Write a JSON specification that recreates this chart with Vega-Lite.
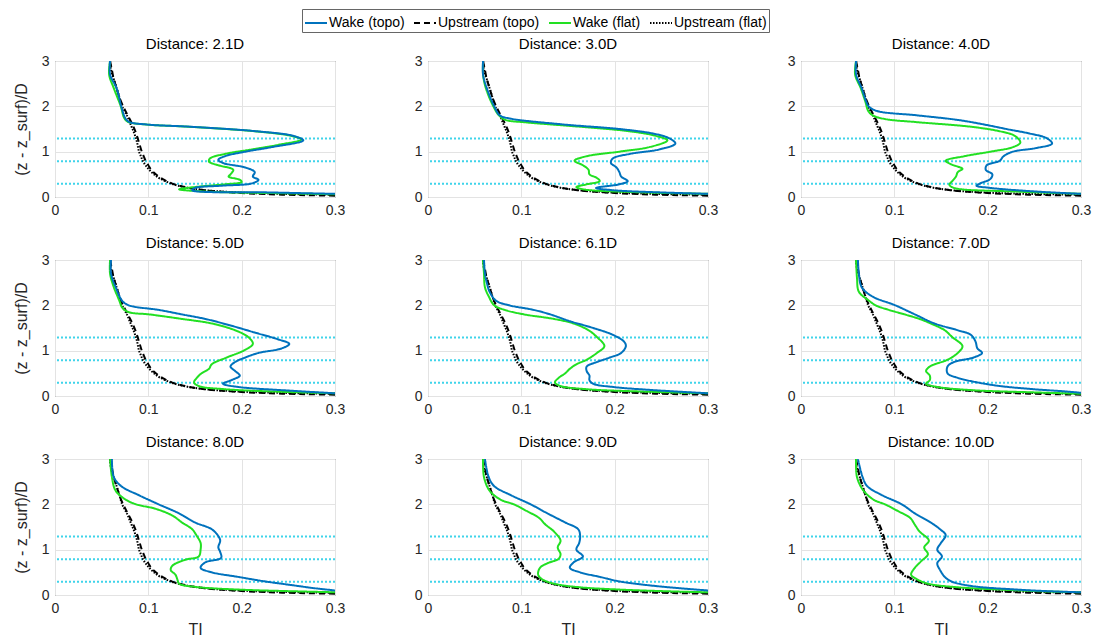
{
"$schema": "https://vega.github.io/schema/vega-lite/v6.json",
"padding": {"left": 12, "top": 8, "right": 5, "bottom": 5},
"background": "white",
"bounds": "flush",
"columns": 3,
"spacing": {"row": 63, "column": 93},
"datasets": {
"hub": [{"z": 0.29}, {"z": 0.79}, {"z": 1.29}],
"prof": [
{"d":"all","s":"Upstream (flat)","z":3,"t":0.059},{"d":"all","s":"Upstream (flat)","z":2.8,"t":0.060},{"d":"all","s":"Upstream (flat)","z":2.6,"t":0.063},{"d":"all","s":"Upstream (flat)","z":2.4,"t":0.066},{"d":"all","s":"Upstream (flat)","z":2.2,"t":0.069},{"d":"all","s":"Upstream (flat)","z":2.0,"t":0.072},{"d":"all","s":"Upstream (flat)","z":1.8,"t":0.077},{"d":"all","s":"Upstream (flat)","z":1.6,"t":0.081},{"d":"all","s":"Upstream (flat)","z":1.4,"t":0.085},{"d":"all","s":"Upstream (flat)","z":1.2,"t":0.088},{"d":"all","s":"Upstream (flat)","z":1.0,"t":0.090},{"d":"all","s":"Upstream (flat)","z":0.9,"t":0.092},{"d":"all","s":"Upstream (flat)","z":0.8,"t":0.094},{"d":"all","s":"Upstream (flat)","z":0.7,"t":0.097},{"d":"all","s":"Upstream (flat)","z":0.6,"t":0.101},{"d":"all","s":"Upstream (flat)","z":0.5,"t":0.106},{"d":"all","s":"Upstream (flat)","z":0.4,"t":0.113},{"d":"all","s":"Upstream (flat)","z":0.3,"t":0.124},{"d":"all","s":"Upstream (flat)","z":0.25,"t":0.132},{"d":"all","s":"Upstream (flat)","z":0.2,"t":0.143},{"d":"all","s":"Upstream (flat)","z":0.15,"t":0.161},{"d":"all","s":"Upstream (flat)","z":0.1,"t":0.196},{"d":"all","s":"Upstream (flat)","z":0.07,"t":0.24},{"d":"all","s":"Upstream (flat)","z":0.05,"t":0.3},
{"d":"all","s":"Upstream (topo)","z":3,"t":0.059},{"d":"all","s":"Upstream (topo)","z":2.8,"t":0.061},{"d":"all","s":"Upstream (topo)","z":2.6,"t":0.063},{"d":"all","s":"Upstream (topo)","z":2.4,"t":0.066},{"d":"all","s":"Upstream (topo)","z":2.2,"t":0.069},{"d":"all","s":"Upstream (topo)","z":2.0,"t":0.073},{"d":"all","s":"Upstream (topo)","z":1.8,"t":0.078},{"d":"all","s":"Upstream (topo)","z":1.6,"t":0.083},{"d":"all","s":"Upstream (topo)","z":1.4,"t":0.087},{"d":"all","s":"Upstream (topo)","z":1.2,"t":0.090},{"d":"all","s":"Upstream (topo)","z":1.0,"t":0.093},{"d":"all","s":"Upstream (topo)","z":0.9,"t":0.095},{"d":"all","s":"Upstream (topo)","z":0.8,"t":0.097},{"d":"all","s":"Upstream (topo)","z":0.7,"t":0.100},{"d":"all","s":"Upstream (topo)","z":0.6,"t":0.103},{"d":"all","s":"Upstream (topo)","z":0.5,"t":0.108},{"d":"all","s":"Upstream (topo)","z":0.4,"t":0.115},{"d":"all","s":"Upstream (topo)","z":0.3,"t":0.125},{"d":"all","s":"Upstream (topo)","z":0.25,"t":0.133},{"d":"all","s":"Upstream (topo)","z":0.2,"t":0.144},{"d":"all","s":"Upstream (topo)","z":0.15,"t":0.160},{"d":"all","s":"Upstream (topo)","z":0.1,"t":0.19},{"d":"all","s":"Upstream (topo)","z":0.06,"t":0.23},{"d":"all","s":"Upstream (topo)","z":0.04,"t":0.27},{"d":"all","s":"Upstream (topo)","z":0.03,"t":0.3},

{"d":"2.1D","s":"Wake (flat)","z":3,"t":0.059},{"d":"2.1D","s":"Wake (flat)","z":2.7,"t":0.058},{"d":"2.1D","s":"Wake (flat)","z":2.4,"t":0.063},{"d":"2.1D","s":"Wake (flat)","z":2.0,"t":0.0705},{"d":"2.1D","s":"Wake (flat)","z":1.75,"t":0.074},{"d":"2.1D","s":"Wake (flat)","z":1.66,"t":0.078},{"d":"2.1D","s":"Wake (flat)","z":1.6,"t":0.097},{"d":"2.1D","s":"Wake (flat)","z":1.55,"t":0.143},{"d":"2.1D","s":"Wake (flat)","z":1.45,"t":0.214},{"d":"2.1D","s":"Wake (flat)","z":1.35,"t":0.253},{"d":"2.1D","s":"Wake (flat)","z":1.27,"t":0.264},{"d":"2.1D","s":"Wake (flat)","z":1.15,"t":0.239},{"d":"2.1D","s":"Wake (flat)","z":1.05,"t":0.211},{"d":"2.1D","s":"Wake (flat)","z":0.95,"t":0.182},{"d":"2.1D","s":"Wake (flat)","z":0.85,"t":0.166},{"d":"2.1D","s":"Wake (flat)","z":0.78,"t":0.165},{"d":"2.1D","s":"Wake (flat)","z":0.7,"t":0.175},{"d":"2.1D","s":"Wake (flat)","z":0.6,"t":0.191},{"d":"2.1D","s":"Wake (flat)","z":0.5,"t":0.188},{"d":"2.1D","s":"Wake (flat)","z":0.45,"t":0.186},{"d":"2.1D","s":"Wake (flat)","z":0.38,"t":0.198},{"d":"2.1D","s":"Wake (flat)","z":0.33,"t":0.2},{"d":"2.1D","s":"Wake (flat)","z":0.28,"t":0.182},{"d":"2.1D","s":"Wake (flat)","z":0.22,"t":0.15},{"d":"2.1D","s":"Wake (flat)","z":0.17,"t":0.133},{"d":"2.1D","s":"Wake (flat)","z":0.12,"t":0.161},{"d":"2.1D","s":"Wake (flat)","z":0.08,"t":0.25},{"d":"2.1D","s":"Wake (flat)","z":0.06,"t":0.3},
{"d":"2.1D","s":"Wake (topo)","z":3,"t":0.059},{"d":"2.1D","s":"Wake (topo)","z":2.7,"t":0.059},{"d":"2.1D","s":"Wake (topo)","z":2.4,"t":0.066},{"d":"2.1D","s":"Wake (topo)","z":2.0,"t":0.071},{"d":"2.1D","s":"Wake (topo)","z":1.75,"t":0.075},{"d":"2.1D","s":"Wake (topo)","z":1.66,"t":0.079},{"d":"2.1D","s":"Wake (topo)","z":1.6,"t":0.098},{"d":"2.1D","s":"Wake (topo)","z":1.55,"t":0.145},{"d":"2.1D","s":"Wake (topo)","z":1.45,"t":0.216},{"d":"2.1D","s":"Wake (topo)","z":1.35,"t":0.255},{"d":"2.1D","s":"Wake (topo)","z":1.25,"t":0.266},{"d":"2.1D","s":"Wake (topo)","z":1.1,"t":0.232},{"d":"2.1D","s":"Wake (topo)","z":1.0,"t":0.204},{"d":"2.1D","s":"Wake (topo)","z":0.9,"t":0.182},{"d":"2.1D","s":"Wake (topo)","z":0.82,"t":0.175},{"d":"2.1D","s":"Wake (topo)","z":0.75,"t":0.18},{"d":"2.1D","s":"Wake (topo)","z":0.65,"t":0.204},{"d":"2.1D","s":"Wake (topo)","z":0.55,"t":0.214},{"d":"2.1D","s":"Wake (topo)","z":0.45,"t":0.212},{"d":"2.1D","s":"Wake (topo)","z":0.38,"t":0.218},{"d":"2.1D","s":"Wake (topo)","z":0.3,"t":0.211},{"d":"2.1D","s":"Wake (topo)","z":0.25,"t":0.179},{"d":"2.1D","s":"Wake (topo)","z":0.2,"t":0.15},{"d":"2.1D","s":"Wake (topo)","z":0.15,"t":0.147},{"d":"2.1D","s":"Wake (topo)","z":0.1,"t":0.232},{"d":"2.1D","s":"Wake (topo)","z":0.07,"t":0.3},

{"d":"3.0D","s":"Wake (flat)","z":3,"t":0.059},{"d":"3.0D","s":"Wake (flat)","z":2.7,"t":0.059},{"d":"3.0D","s":"Wake (flat)","z":2.4,"t":0.062},{"d":"3.0D","s":"Wake (flat)","z":2.0,"t":0.070},{"d":"3.0D","s":"Wake (flat)","z":1.8,"t":0.076},{"d":"3.0D","s":"Wake (flat)","z":1.7,"t":0.083},{"d":"3.0D","s":"Wake (flat)","z":1.65,"t":0.103},{"d":"3.0D","s":"Wake (flat)","z":1.55,"t":0.163},{"d":"3.0D","s":"Wake (flat)","z":1.45,"t":0.216},{"d":"3.0D","s":"Wake (flat)","z":1.35,"t":0.244},{"d":"3.0D","s":"Wake (flat)","z":1.25,"t":0.2565},{"d":"3.0D","s":"Wake (flat)","z":1.1,"t":0.237},{"d":"3.0D","s":"Wake (flat)","z":1.0,"t":0.205},{"d":"3.0D","s":"Wake (flat)","z":0.9,"t":0.170},{"d":"3.0D","s":"Wake (flat)","z":0.8,"t":0.157},{"d":"3.0D","s":"Wake (flat)","z":0.7,"t":0.166},{"d":"3.0D","s":"Wake (flat)","z":0.6,"t":0.172},{"d":"3.0D","s":"Wake (flat)","z":0.5,"t":0.173},{"d":"3.0D","s":"Wake (flat)","z":0.42,"t":0.181},{"d":"3.0D","s":"Wake (flat)","z":0.35,"t":0.184},{"d":"3.0D","s":"Wake (flat)","z":0.28,"t":0.170},{"d":"3.0D","s":"Wake (flat)","z":0.22,"t":0.159},{"d":"3.0D","s":"Wake (flat)","z":0.17,"t":0.166},{"d":"3.0D","s":"Wake (flat)","z":0.1,"t":0.234},{"d":"3.0D","s":"Wake (flat)","z":0.07,"t":0.3},
{"d":"3.0D","s":"Wake (topo)","z":3,"t":0.059},{"d":"3.0D","s":"Wake (topo)","z":2.7,"t":0.059},{"d":"3.0D","s":"Wake (topo)","z":2.4,"t":0.063},{"d":"3.0D","s":"Wake (topo)","z":2.0,"t":0.071},{"d":"3.0D","s":"Wake (topo)","z":1.8,"t":0.077},{"d":"3.0D","s":"Wake (topo)","z":1.73,"t":0.088},{"d":"3.0D","s":"Wake (topo)","z":1.6,"t":0.145},{"d":"3.0D","s":"Wake (topo)","z":1.5,"t":0.205},{"d":"3.0D","s":"Wake (topo)","z":1.4,"t":0.241},{"d":"3.0D","s":"Wake (topo)","z":1.3,"t":0.258},{"d":"3.0D","s":"Wake (topo)","z":1.18,"t":0.265},{"d":"3.0D","s":"Wake (topo)","z":1.05,"t":0.248},{"d":"3.0D","s":"Wake (topo)","z":0.95,"t":0.216},{"d":"3.0D","s":"Wake (topo)","z":0.85,"t":0.198},{"d":"3.0D","s":"Wake (topo)","z":0.75,"t":0.196},{"d":"3.0D","s":"Wake (topo)","z":0.65,"t":0.202},{"d":"3.0D","s":"Wake (topo)","z":0.55,"t":0.205},{"d":"3.0D","s":"Wake (topo)","z":0.45,"t":0.207},{"d":"3.0D","s":"Wake (topo)","z":0.35,"t":0.214},{"d":"3.0D","s":"Wake (topo)","z":0.28,"t":0.205},{"d":"3.0D","s":"Wake (topo)","z":0.2,"t":0.18},{"d":"3.0D","s":"Wake (topo)","z":0.15,"t":0.198},{"d":"3.0D","s":"Wake (topo)","z":0.1,"t":0.251},{"d":"3.0D","s":"Wake (topo)","z":0.07,"t":0.3},

{"d":"4.0D","s":"Wake (flat)","z":3,"t":0.059},{"d":"4.0D","s":"Wake (flat)","z":2.7,"t":0.058},{"d":"4.0D","s":"Wake (flat)","z":2.4,"t":0.064},{"d":"4.0D","s":"Wake (flat)","z":2.1,"t":0.069},{"d":"4.0D","s":"Wake (flat)","z":1.9,"t":0.072},{"d":"4.0D","s":"Wake (flat)","z":1.8,"t":0.077},{"d":"4.0D","s":"Wake (flat)","z":1.72,"t":0.090},{"d":"4.0D","s":"Wake (flat)","z":1.65,"t":0.125},{"d":"4.0D","s":"Wake (flat)","z":1.55,"t":0.182},{"d":"4.0D","s":"Wake (flat)","z":1.45,"t":0.213},{"d":"4.0D","s":"Wake (flat)","z":1.35,"t":0.229},{"d":"4.0D","s":"Wake (flat)","z":1.2,"t":0.235},{"d":"4.0D","s":"Wake (flat)","z":1.1,"t":0.227},{"d":"4.0D","s":"Wake (flat)","z":1.0,"t":0.203},{"d":"4.0D","s":"Wake (flat)","z":0.9,"t":0.175},{"d":"4.0D","s":"Wake (flat)","z":0.8,"t":0.155},{"d":"4.0D","s":"Wake (flat)","z":0.72,"t":0.161},{"d":"4.0D","s":"Wake (flat)","z":0.62,"t":0.173},{"d":"4.0D","s":"Wake (flat)","z":0.55,"t":0.168},{"d":"4.0D","s":"Wake (flat)","z":0.45,"t":0.166},{"d":"4.0D","s":"Wake (flat)","z":0.35,"t":0.162},{"d":"4.0D","s":"Wake (flat)","z":0.27,"t":0.159},{"d":"4.0D","s":"Wake (flat)","z":0.2,"t":0.164},{"d":"4.0D","s":"Wake (flat)","z":0.12,"t":0.231},{"d":"4.0D","s":"Wake (flat)","z":0.07,"t":0.3},
{"d":"4.0D","s":"Wake (topo)","z":3,"t":0.059},{"d":"4.0D","s":"Wake (topo)","z":2.7,"t":0.059},{"d":"4.0D","s":"Wake (topo)","z":2.4,"t":0.065},{"d":"4.0D","s":"Wake (topo)","z":2.1,"t":0.070},{"d":"4.0D","s":"Wake (topo)","z":2.0,"t":0.0725},{"d":"4.0D","s":"Wake (topo)","z":1.9,"t":0.081},{"d":"4.0D","s":"Wake (topo)","z":1.8,"t":0.125},{"d":"4.0D","s":"Wake (topo)","z":1.7,"t":0.168},{"d":"4.0D","s":"Wake (topo)","z":1.6,"t":0.196},{"d":"4.0D","s":"Wake (topo)","z":1.5,"t":0.220},{"d":"4.0D","s":"Wake (topo)","z":1.4,"t":0.245},{"d":"4.0D","s":"Wake (topo)","z":1.3,"t":0.263},{"d":"4.0D","s":"Wake (topo)","z":1.18,"t":0.269},{"d":"4.0D","s":"Wake (topo)","z":1.08,"t":0.252},{"d":"4.0D","s":"Wake (topo)","z":1.0,"t":0.227},{"d":"4.0D","s":"Wake (topo)","z":0.9,"t":0.217},{"d":"4.0D","s":"Wake (topo)","z":0.8,"t":0.213},{"d":"4.0D","s":"Wake (topo)","z":0.7,"t":0.199},{"d":"4.0D","s":"Wake (topo)","z":0.6,"t":0.198},{"d":"4.0D","s":"Wake (topo)","z":0.5,"t":0.205},{"d":"4.0D","s":"Wake (topo)","z":0.4,"t":0.203},{"d":"4.0D","s":"Wake (topo)","z":0.3,"t":0.192},{"d":"4.0D","s":"Wake (topo)","z":0.25,"t":0.188},{"d":"4.0D","s":"Wake (topo)","z":0.2,"t":0.203},{"d":"4.0D","s":"Wake (topo)","z":0.12,"t":0.252},{"d":"4.0D","s":"Wake (topo)","z":0.07,"t":0.3},

{"d":"5.0D","s":"Wake (flat)","z":3,"t":0.059},{"d":"5.0D","s":"Wake (flat)","z":2.7,"t":0.059},{"d":"5.0D","s":"Wake (flat)","z":2.4,"t":0.063},{"d":"5.0D","s":"Wake (flat)","z":2.1,"t":0.069},{"d":"5.0D","s":"Wake (flat)","z":1.95,"t":0.072},{"d":"5.0D","s":"Wake (flat)","z":1.85,"t":0.079},{"d":"5.0D","s":"Wake (flat)","z":1.8,"t":0.101},{"d":"5.0D","s":"Wake (flat)","z":1.7,"t":0.136},{"d":"5.0D","s":"Wake (flat)","z":1.6,"t":0.168},{"d":"5.0D","s":"Wake (flat)","z":1.45,"t":0.193},{"d":"5.0D","s":"Wake (flat)","z":1.3,"t":0.207},{"d":"5.0D","s":"Wake (flat)","z":1.15,"t":0.212},{"d":"5.0D","s":"Wake (flat)","z":1.0,"t":0.202},{"d":"5.0D","s":"Wake (flat)","z":0.85,"t":0.184},{"d":"5.0D","s":"Wake (flat)","z":0.7,"t":0.168},{"d":"5.0D","s":"Wake (flat)","z":0.6,"t":0.165},{"d":"5.0D","s":"Wake (flat)","z":0.5,"t":0.157},{"d":"5.0D","s":"Wake (flat)","z":0.4,"t":0.152},{"d":"5.0D","s":"Wake (flat)","z":0.3,"t":0.149},{"d":"5.0D","s":"Wake (flat)","z":0.22,"t":0.154},{"d":"5.0D","s":"Wake (flat)","z":0.15,"t":0.182},{"d":"5.0D","s":"Wake (flat)","z":0.1,"t":0.232},{"d":"5.0D","s":"Wake (flat)","z":0.06,"t":0.3},
{"d":"5.0D","s":"Wake (topo)","z":3,"t":0.060},{"d":"5.0D","s":"Wake (topo)","z":2.7,"t":0.060},{"d":"5.0D","s":"Wake (topo)","z":2.4,"t":0.065},{"d":"5.0D","s":"Wake (topo)","z":2.1,"t":0.072},{"d":"5.0D","s":"Wake (topo)","z":2.0,"t":0.079},{"d":"5.0D","s":"Wake (topo)","z":1.9,"t":0.111},{"d":"5.0D","s":"Wake (topo)","z":1.8,"t":0.136},{"d":"5.0D","s":"Wake (topo)","z":1.7,"t":0.161},{"d":"5.0D","s":"Wake (topo)","z":1.55,"t":0.189},{"d":"5.0D","s":"Wake (topo)","z":1.4,"t":0.214},{"d":"5.0D","s":"Wake (topo)","z":1.25,"t":0.239},{"d":"5.0D","s":"Wake (topo)","z":1.15,"t":0.251},{"d":"5.0D","s":"Wake (topo)","z":1.05,"t":0.243},{"d":"5.0D","s":"Wake (topo)","z":0.95,"t":0.218},{"d":"5.0D","s":"Wake (topo)","z":0.85,"t":0.204},{"d":"5.0D","s":"Wake (topo)","z":0.75,"t":0.193},{"d":"5.0D","s":"Wake (topo)","z":0.65,"t":0.188},{"d":"5.0D","s":"Wake (topo)","z":0.55,"t":0.193},{"d":"5.0D","s":"Wake (topo)","z":0.45,"t":0.198},{"d":"5.0D","s":"Wake (topo)","z":0.35,"t":0.189},{"d":"5.0D","s":"Wake (topo)","z":0.27,"t":0.18},{"d":"5.0D","s":"Wake (topo)","z":0.2,"t":0.196},{"d":"5.0D","s":"Wake (topo)","z":0.12,"t":0.25},{"d":"5.0D","s":"Wake (topo)","z":0.06,"t":0.3},

{"d":"6.1D","s":"Wake (flat)","z":3,"t":0.059},{"d":"6.1D","s":"Wake (flat)","z":2.7,"t":0.060},{"d":"6.1D","s":"Wake (flat)","z":2.4,"t":0.061},{"d":"6.1D","s":"Wake (flat)","z":2.2,"t":0.065},{"d":"6.1D","s":"Wake (flat)","z":2.0,"t":0.071},{"d":"6.1D","s":"Wake (flat)","z":1.9,"t":0.082},{"d":"6.1D","s":"Wake (flat)","z":1.8,"t":0.103},{"d":"6.1D","s":"Wake (flat)","z":1.7,"t":0.135},{"d":"6.1D","s":"Wake (flat)","z":1.6,"t":0.156},{"d":"6.1D","s":"Wake (flat)","z":1.45,"t":0.172},{"d":"6.1D","s":"Wake (flat)","z":1.3,"t":0.181},{"d":"6.1D","s":"Wake (flat)","z":1.1,"t":0.189},{"d":"6.1D","s":"Wake (flat)","z":0.95,"t":0.181},{"d":"6.1D","s":"Wake (flat)","z":0.8,"t":0.17},{"d":"6.1D","s":"Wake (flat)","z":0.7,"t":0.159},{"d":"6.1D","s":"Wake (flat)","z":0.6,"t":0.152},{"d":"6.1D","s":"Wake (flat)","z":0.5,"t":0.147},{"d":"6.1D","s":"Wake (flat)","z":0.4,"t":0.14},{"d":"6.1D","s":"Wake (flat)","z":0.3,"t":0.136},{"d":"6.1D","s":"Wake (flat)","z":0.22,"t":0.142},{"d":"6.1D","s":"Wake (flat)","z":0.15,"t":0.17},{"d":"6.1D","s":"Wake (flat)","z":0.1,"t":0.227},{"d":"6.1D","s":"Wake (flat)","z":0.06,"t":0.3},
{"d":"6.1D","s":"Wake (topo)","z":3,"t":0.060},{"d":"6.1D","s":"Wake (topo)","z":2.7,"t":0.061},{"d":"6.1D","s":"Wake (topo)","z":2.5,"t":0.063},{"d":"6.1D","s":"Wake (topo)","z":2.3,"t":0.066},{"d":"6.1D","s":"Wake (topo)","z":2.1,"t":0.073},{"d":"6.1D","s":"Wake (topo)","z":2.0,"t":0.087},{"d":"6.1D","s":"Wake (topo)","z":1.9,"t":0.113},{"d":"6.1D","s":"Wake (topo)","z":1.8,"t":0.131},{"d":"6.1D","s":"Wake (topo)","z":1.65,"t":0.152},{"d":"6.1D","s":"Wake (topo)","z":1.5,"t":0.177},{"d":"6.1D","s":"Wake (topo)","z":1.35,"t":0.198},{"d":"6.1D","s":"Wake (topo)","z":1.2,"t":0.21},{"d":"6.1D","s":"Wake (topo)","z":1.1,"t":0.212},{"d":"6.1D","s":"Wake (topo)","z":0.95,"t":0.207},{"d":"6.1D","s":"Wake (topo)","z":0.85,"t":0.195},{"d":"6.1D","s":"Wake (topo)","z":0.75,"t":0.181},{"d":"6.1D","s":"Wake (topo)","z":0.65,"t":0.17},{"d":"6.1D","s":"Wake (topo)","z":0.55,"t":0.17},{"d":"6.1D","s":"Wake (topo)","z":0.45,"t":0.173},{"d":"6.1D","s":"Wake (topo)","z":0.35,"t":0.173},{"d":"6.1D","s":"Wake (topo)","z":0.27,"t":0.177},{"d":"6.1D","s":"Wake (topo)","z":0.2,"t":0.198},{"d":"6.1D","s":"Wake (topo)","z":0.13,"t":0.241},{"d":"6.1D","s":"Wake (topo)","z":0.06,"t":0.3},

{"d":"7.0D","s":"Wake (flat)","z":3,"t":0.059},{"d":"7.0D","s":"Wake (flat)","z":2.6,"t":0.060},{"d":"7.0D","s":"Wake (flat)","z":2.3,"t":0.062},{"d":"7.0D","s":"Wake (flat)","z":2.1,"t":0.073},{"d":"7.0D","s":"Wake (flat)","z":2.0,"t":0.080},{"d":"7.0D","s":"Wake (flat)","z":1.9,"t":0.094},{"d":"7.0D","s":"Wake (flat)","z":1.8,"t":0.111},{"d":"7.0D","s":"Wake (flat)","z":1.7,"t":0.127},{"d":"7.0D","s":"Wake (flat)","z":1.6,"t":0.139},{"d":"7.0D","s":"Wake (flat)","z":1.45,"t":0.154},{"d":"7.0D","s":"Wake (flat)","z":1.3,"t":0.162},{"d":"7.0D","s":"Wake (flat)","z":1.1,"t":0.173},{"d":"7.0D","s":"Wake (flat)","z":0.95,"t":0.168},{"d":"7.0D","s":"Wake (flat)","z":0.8,"t":0.157},{"d":"7.0D","s":"Wake (flat)","z":0.65,"t":0.138},{"d":"7.0D","s":"Wake (flat)","z":0.55,"t":0.134},{"d":"7.0D","s":"Wake (flat)","z":0.45,"t":0.138},{"d":"7.0D","s":"Wake (flat)","z":0.35,"t":0.138},{"d":"7.0D","s":"Wake (flat)","z":0.27,"t":0.134},{"d":"7.0D","s":"Wake (flat)","z":0.2,"t":0.146},{"d":"7.0D","s":"Wake (flat)","z":0.13,"t":0.182},{"d":"7.0D","s":"Wake (flat)","z":0.08,"t":0.249},{"d":"7.0D","s":"Wake (flat)","z":0.05,"t":0.3},
{"d":"7.0D","s":"Wake (topo)","z":3,"t":0.061},{"d":"7.0D","s":"Wake (topo)","z":2.7,"t":0.062},{"d":"7.0D","s":"Wake (topo)","z":2.4,"t":0.065},{"d":"7.0D","s":"Wake (topo)","z":2.2,"t":0.076},{"d":"7.0D","s":"Wake (topo)","z":2.0,"t":0.101},{"d":"7.0D","s":"Wake (topo)","z":1.8,"t":0.122},{"d":"7.0D","s":"Wake (topo)","z":1.6,"t":0.143},{"d":"7.0D","s":"Wake (topo)","z":1.45,"t":0.168},{"d":"7.0D","s":"Wake (topo)","z":1.35,"t":0.182},{"d":"7.0D","s":"Wake (topo)","z":1.2,"t":0.187},{"d":"7.0D","s":"Wake (topo)","z":1.05,"t":0.189},{"d":"7.0D","s":"Wake (topo)","z":0.95,"t":0.194},{"d":"7.0D","s":"Wake (topo)","z":0.85,"t":0.185},{"d":"7.0D","s":"Wake (topo)","z":0.75,"t":0.164},{"d":"7.0D","s":"Wake (topo)","z":0.65,"t":0.157},{"d":"7.0D","s":"Wake (topo)","z":0.5,"t":0.157},{"d":"7.0D","s":"Wake (topo)","z":0.4,"t":0.168},{"d":"7.0D","s":"Wake (topo)","z":0.3,"t":0.189},{"d":"7.0D","s":"Wake (topo)","z":0.22,"t":0.213},{"d":"7.0D","s":"Wake (topo)","z":0.15,"t":0.249},{"d":"7.0D","s":"Wake (topo)","z":0.1,"t":0.284},{"d":"7.0D","s":"Wake (topo)","z":0.07,"t":0.3},

{"d":"8.0D","s":"Wake (flat)","z":3,"t":0.059},{"d":"8.0D","s":"Wake (flat)","z":2.6,"t":0.061},{"d":"8.0D","s":"Wake (flat)","z":2.3,"t":0.065},{"d":"8.0D","s":"Wake (flat)","z":2.1,"t":0.076},{"d":"8.0D","s":"Wake (flat)","z":2.0,"t":0.087},{"d":"8.0D","s":"Wake (flat)","z":1.9,"t":0.108},{"d":"8.0D","s":"Wake (flat)","z":1.75,"t":0.126},{"d":"8.0D","s":"Wake (flat)","z":1.6,"t":0.136},{"d":"8.0D","s":"Wake (flat)","z":1.45,"t":0.147},{"d":"8.0D","s":"Wake (flat)","z":1.3,"t":0.152},{"d":"8.0D","s":"Wake (flat)","z":1.15,"t":0.156},{"d":"8.0D","s":"Wake (flat)","z":1.0,"t":0.156},{"d":"8.0D","s":"Wake (flat)","z":0.85,"t":0.154},{"d":"8.0D","s":"Wake (flat)","z":0.78,"t":0.14},{"d":"8.0D","s":"Wake (flat)","z":0.65,"t":0.126},{"d":"8.0D","s":"Wake (flat)","z":0.55,"t":0.124},{"d":"8.0D","s":"Wake (flat)","z":0.45,"t":0.129},{"d":"8.0D","s":"Wake (flat)","z":0.35,"t":0.131},{"d":"8.0D","s":"Wake (flat)","z":0.25,"t":0.133},{"d":"8.0D","s":"Wake (flat)","z":0.18,"t":0.15},{"d":"8.0D","s":"Wake (flat)","z":0.12,"t":0.196},{"d":"8.0D","s":"Wake (flat)","z":0.08,"t":0.26},{"d":"8.0D","s":"Wake (flat)","z":0.06,"t":0.3},
{"d":"8.0D","s":"Wake (topo)","z":3,"t":0.061},{"d":"8.0D","s":"Wake (topo)","z":2.6,"t":0.063},{"d":"8.0D","s":"Wake (topo)","z":2.4,"t":0.071},{"d":"8.0D","s":"Wake (topo)","z":2.2,"t":0.09},{"d":"8.0D","s":"Wake (topo)","z":2.0,"t":0.111},{"d":"8.0D","s":"Wake (topo)","z":1.8,"t":0.133},{"d":"8.0D","s":"Wake (topo)","z":1.6,"t":0.15},{"d":"8.0D","s":"Wake (topo)","z":1.45,"t":0.168},{"d":"8.0D","s":"Wake (topo)","z":1.3,"t":0.175},{"d":"8.0D","s":"Wake (topo)","z":1.2,"t":0.177},{"d":"8.0D","s":"Wake (topo)","z":1.05,"t":0.175},{"d":"8.0D","s":"Wake (topo)","z":0.95,"t":0.177},{"d":"8.0D","s":"Wake (topo)","z":0.82,"t":0.178},{"d":"8.0D","s":"Wake (topo)","z":0.72,"t":0.161},{"d":"8.0D","s":"Wake (topo)","z":0.6,"t":0.156},{"d":"8.0D","s":"Wake (topo)","z":0.5,"t":0.168},{"d":"8.0D","s":"Wake (topo)","z":0.4,"t":0.196},{"d":"8.0D","s":"Wake (topo)","z":0.3,"t":0.225},{"d":"8.0D","s":"Wake (topo)","z":0.22,"t":0.253},{"d":"8.0D","s":"Wake (topo)","z":0.15,"t":0.278},{"d":"8.0D","s":"Wake (topo)","z":0.1,"t":0.3},

{"d":"9.0D","s":"Wake (flat)","z":3,"t":0.059},{"d":"9.0D","s":"Wake (flat)","z":2.6,"t":0.06},{"d":"9.0D","s":"Wake (flat)","z":2.3,"t":0.066},{"d":"9.0D","s":"Wake (flat)","z":2.1,"t":0.078},{"d":"9.0D","s":"Wake (flat)","z":2.0,"t":0.092},{"d":"9.0D","s":"Wake (flat)","z":1.85,"t":0.106},{"d":"9.0D","s":"Wake (flat)","z":1.7,"t":0.119},{"d":"9.0D","s":"Wake (flat)","z":1.55,"t":0.126},{"d":"9.0D","s":"Wake (flat)","z":1.4,"t":0.135},{"d":"9.0D","s":"Wake (flat)","z":1.2,"t":0.142},{"d":"9.0D","s":"Wake (flat)","z":1.05,"t":0.139},{"d":"9.0D","s":"Wake (flat)","z":0.9,"t":0.142},{"d":"9.0D","s":"Wake (flat)","z":0.8,"t":0.14},{"d":"9.0D","s":"Wake (flat)","z":0.7,"t":0.128},{"d":"9.0D","s":"Wake (flat)","z":0.6,"t":0.12},{"d":"9.0D","s":"Wake (flat)","z":0.45,"t":0.118},{"d":"9.0D","s":"Wake (flat)","z":0.35,"t":0.122},{"d":"9.0D","s":"Wake (flat)","z":0.25,"t":0.135},{"d":"9.0D","s":"Wake (flat)","z":0.17,"t":0.163},{"d":"9.0D","s":"Wake (flat)","z":0.12,"t":0.205},{"d":"9.0D","s":"Wake (flat)","z":0.08,"t":0.26},{"d":"9.0D","s":"Wake (flat)","z":0.06,"t":0.3},
{"d":"9.0D","s":"Wake (topo)","z":3,"t":0.061},{"d":"9.0D","s":"Wake (topo)","z":2.6,"t":0.065},{"d":"9.0D","s":"Wake (topo)","z":2.4,"t":0.071},{"d":"9.0D","s":"Wake (topo)","z":2.2,"t":0.089},{"d":"9.0D","s":"Wake (topo)","z":2.0,"t":0.11},{"d":"9.0D","s":"Wake (topo)","z":1.8,"t":0.128},{"d":"9.0D","s":"Wake (topo)","z":1.6,"t":0.147},{"d":"9.0D","s":"Wake (topo)","z":1.45,"t":0.161},{"d":"9.0D","s":"Wake (topo)","z":1.3,"t":0.163},{"d":"9.0D","s":"Wake (topo)","z":1.15,"t":0.162},{"d":"9.0D","s":"Wake (topo)","z":1.0,"t":0.159},{"d":"9.0D","s":"Wake (topo)","z":0.85,"t":0.166},{"d":"9.0D","s":"Wake (topo)","z":0.72,"t":0.156},{"d":"9.0D","s":"Wake (topo)","z":0.6,"t":0.152},{"d":"9.0D","s":"Wake (topo)","z":0.5,"t":0.163},{"d":"9.0D","s":"Wake (topo)","z":0.4,"t":0.184},{"d":"9.0D","s":"Wake (topo)","z":0.3,"t":0.205},{"d":"9.0D","s":"Wake (topo)","z":0.22,"t":0.234},{"d":"9.0D","s":"Wake (topo)","z":0.15,"t":0.269},{"d":"9.0D","s":"Wake (topo)","z":0.1,"t":0.3},

{"d":"10.0D","s":"Wake (flat)","z":3,"t":0.059},{"d":"10.0D","s":"Wake (flat)","z":2.6,"t":0.06},{"d":"10.0D","s":"Wake (flat)","z":2.3,"t":0.067},{"d":"10.0D","s":"Wake (flat)","z":2.1,"t":0.078},{"d":"10.0D","s":"Wake (flat)","z":2.0,"t":0.09},{"d":"10.0D","s":"Wake (flat)","z":1.85,"t":0.104},{"d":"10.0D","s":"Wake (flat)","z":1.7,"t":0.117},{"d":"10.0D","s":"Wake (flat)","z":1.55,"t":0.122},{"d":"10.0D","s":"Wake (flat)","z":1.4,"t":0.127},{"d":"10.0D","s":"Wake (flat)","z":1.2,"t":0.137},{"d":"10.0D","s":"Wake (flat)","z":1.05,"t":0.132},{"d":"10.0D","s":"Wake (flat)","z":0.9,"t":0.136},{"d":"10.0D","s":"Wake (flat)","z":0.75,"t":0.129},{"d":"10.0D","s":"Wake (flat)","z":0.6,"t":0.122},{"d":"10.0D","s":"Wake (flat)","z":0.45,"t":0.118},{"d":"10.0D","s":"Wake (flat)","z":0.35,"t":0.124},{"d":"10.0D","s":"Wake (flat)","z":0.25,"t":0.136},{"d":"10.0D","s":"Wake (flat)","z":0.17,"t":0.168},{"d":"10.0D","s":"Wake (flat)","z":0.12,"t":0.213},{"d":"10.0D","s":"Wake (flat)","z":0.08,"t":0.26},{"d":"10.0D","s":"Wake (flat)","z":0.06,"t":0.3},
{"d":"10.0D","s":"Wake (topo)","z":3,"t":0.061},{"d":"10.0D","s":"Wake (topo)","z":2.6,"t":0.066},{"d":"10.0D","s":"Wake (topo)","z":2.4,"t":0.071},{"d":"10.0D","s":"Wake (topo)","z":2.2,"t":0.087},{"d":"10.0D","s":"Wake (topo)","z":2.0,"t":0.108},{"d":"10.0D","s":"Wake (topo)","z":1.8,"t":0.122},{"d":"10.0D","s":"Wake (topo)","z":1.6,"t":0.139},{"d":"10.0D","s":"Wake (topo)","z":1.45,"t":0.149},{"d":"10.0D","s":"Wake (topo)","z":1.32,"t":0.155},{"d":"10.0D","s":"Wake (topo)","z":1.15,"t":0.15},{"d":"10.0D","s":"Wake (topo)","z":1.0,"t":0.146},{"d":"10.0D","s":"Wake (topo)","z":0.85,"t":0.151},{"d":"10.0D","s":"Wake (topo)","z":0.7,"t":0.146},{"d":"10.0D","s":"Wake (topo)","z":0.55,"t":0.149},{"d":"10.0D","s":"Wake (topo)","z":0.4,"t":0.154},{"d":"10.0D","s":"Wake (topo)","z":0.3,"t":0.161},{"d":"10.0D","s":"Wake (topo)","z":0.2,"t":0.182},{"d":"10.0D","s":"Wake (topo)","z":0.12,"t":0.231},{"d":"10.0D","s":"Wake (topo)","z":0.08,"t":0.27},{"d":"10.0D","s":"Wake (topo)","z":0.06,"t":0.3}
]
},
"concat": [
{"title": "Distance: 2.1D", "width": 280, "height": 136, "layer": [
 {"data": {"name": "hub"}, "mark": {"type": "rule", "color": "#3fd4ea", "strokeDash": [2, 2], "strokeWidth": 2}, "encoding": {"y": {"field": "z", "type": "quantitative", "scale": {"domain": [0, 3]}, "axis": {"values": [0, 1, 2, 3], "format": "~g"}, "title": "(z - z_surf)/D"}}},
 {"data": {"name": "prof"}, "transform": [{"filter": "datum.d == '2.1D' || datum.d == 'all'"}], "mark": {"type": "line", "strokeWidth": 2, "clip": true, "interpolate": "catmull-rom"}, "encoding": {
  "x": {"field": "t", "type": "quantitative", "scale": {"domain": [0, 0.3]}, "axis": {"values": [0, 0.1, 0.2, 0.3], "format": "~g"}, "title": null},
  "y": {"field": "z", "type": "quantitative", "scale": {"domain": [0, 3]}, "axis": {"values": [0, 1, 2, 3], "format": "~g"}, "title": "(z - z_surf)/D"},
  "color": {"field": "s", "type": "nominal", "title": null, "scale": {"domain": ["Wake (topo)", "Upstream (topo)", "Wake (flat)", "Upstream (flat)"], "range": ["#0072BD", "#000000", "#22E022", "#000000"]}},
  "strokeDash": {"field": "s", "type": "nominal", "title": null, "scale": {"domain": ["Wake (topo)", "Upstream (topo)", "Wake (flat)", "Upstream (flat)"], "range": [[1, 0], [6, 4], [1, 0], [1.5, 1.5]]}},
  "order": {"field": "z", "type": "quantitative"}}}
]},
{"title": "Distance: 3.0D", "width": 280, "height": 136, "layer": [
 {"data": {"name": "hub"}, "mark": {"type": "rule", "color": "#3fd4ea", "strokeDash": [2, 2], "strokeWidth": 2}, "encoding": {"y": {"field": "z", "type": "quantitative", "scale": {"domain": [0, 3]}, "axis": {"values": [0, 1, 2, 3], "format": "~g"}, "title": null}}},
 {"data": {"name": "prof"}, "transform": [{"filter": "datum.d == '3.0D' || datum.d == 'all'"}], "mark": {"type": "line", "strokeWidth": 2, "clip": true, "interpolate": "catmull-rom"}, "encoding": {
  "x": {"field": "t", "type": "quantitative", "scale": {"domain": [0, 0.3]}, "axis": {"values": [0, 0.1, 0.2, 0.3], "format": "~g"}, "title": null},
  "y": {"field": "z", "type": "quantitative", "scale": {"domain": [0, 3]}, "axis": {"values": [0, 1, 2, 3], "format": "~g"}, "title": null},
  "color": {"field": "s", "type": "nominal", "title": null, "scale": {"domain": ["Wake (topo)", "Upstream (topo)", "Wake (flat)", "Upstream (flat)"], "range": ["#0072BD", "#000000", "#22E022", "#000000"]}},
  "strokeDash": {"field": "s", "type": "nominal", "title": null, "scale": {"domain": ["Wake (topo)", "Upstream (topo)", "Wake (flat)", "Upstream (flat)"], "range": [[1, 0], [6, 4], [1, 0], [1.5, 1.5]]}},
  "order": {"field": "z", "type": "quantitative"}}}
]},
{"title": "Distance: 4.0D", "width": 280, "height": 136, "layer": [
 {"data": {"name": "hub"}, "mark": {"type": "rule", "color": "#3fd4ea", "strokeDash": [2, 2], "strokeWidth": 2}, "encoding": {"y": {"field": "z", "type": "quantitative", "scale": {"domain": [0, 3]}, "axis": {"values": [0, 1, 2, 3], "format": "~g"}, "title": null}}},
 {"data": {"name": "prof"}, "transform": [{"filter": "datum.d == '4.0D' || datum.d == 'all'"}], "mark": {"type": "line", "strokeWidth": 2, "clip": true, "interpolate": "catmull-rom"}, "encoding": {
  "x": {"field": "t", "type": "quantitative", "scale": {"domain": [0, 0.3]}, "axis": {"values": [0, 0.1, 0.2, 0.3], "format": "~g"}, "title": null},
  "y": {"field": "z", "type": "quantitative", "scale": {"domain": [0, 3]}, "axis": {"values": [0, 1, 2, 3], "format": "~g"}, "title": null},
  "color": {"field": "s", "type": "nominal", "title": null, "scale": {"domain": ["Wake (topo)", "Upstream (topo)", "Wake (flat)", "Upstream (flat)"], "range": ["#0072BD", "#000000", "#22E022", "#000000"]}},
  "strokeDash": {"field": "s", "type": "nominal", "title": null, "scale": {"domain": ["Wake (topo)", "Upstream (topo)", "Wake (flat)", "Upstream (flat)"], "range": [[1, 0], [6, 4], [1, 0], [1.5, 1.5]]}},
  "order": {"field": "z", "type": "quantitative"}}}
]},
{"title": "Distance: 5.0D", "width": 280, "height": 136, "layer": [
 {"data": {"name": "hub"}, "mark": {"type": "rule", "color": "#3fd4ea", "strokeDash": [2, 2], "strokeWidth": 2}, "encoding": {"y": {"field": "z", "type": "quantitative", "scale": {"domain": [0, 3]}, "axis": {"values": [0, 1, 2, 3], "format": "~g"}, "title": "(z - z_surf)/D"}}},
 {"data": {"name": "prof"}, "transform": [{"filter": "datum.d == '5.0D' || datum.d == 'all'"}], "mark": {"type": "line", "strokeWidth": 2, "clip": true, "interpolate": "catmull-rom"}, "encoding": {
  "x": {"field": "t", "type": "quantitative", "scale": {"domain": [0, 0.3]}, "axis": {"values": [0, 0.1, 0.2, 0.3], "format": "~g"}, "title": null},
  "y": {"field": "z", "type": "quantitative", "scale": {"domain": [0, 3]}, "axis": {"values": [0, 1, 2, 3], "format": "~g"}, "title": "(z - z_surf)/D"},
  "color": {"field": "s", "type": "nominal", "title": null, "scale": {"domain": ["Wake (topo)", "Upstream (topo)", "Wake (flat)", "Upstream (flat)"], "range": ["#0072BD", "#000000", "#22E022", "#000000"]}},
  "strokeDash": {"field": "s", "type": "nominal", "title": null, "scale": {"domain": ["Wake (topo)", "Upstream (topo)", "Wake (flat)", "Upstream (flat)"], "range": [[1, 0], [6, 4], [1, 0], [1.5, 1.5]]}},
  "order": {"field": "z", "type": "quantitative"}}}
]},
{"title": "Distance: 6.1D", "width": 280, "height": 136, "layer": [
 {"data": {"name": "hub"}, "mark": {"type": "rule", "color": "#3fd4ea", "strokeDash": [2, 2], "strokeWidth": 2}, "encoding": {"y": {"field": "z", "type": "quantitative", "scale": {"domain": [0, 3]}, "axis": {"values": [0, 1, 2, 3], "format": "~g"}, "title": null}}},
 {"data": {"name": "prof"}, "transform": [{"filter": "datum.d == '6.1D' || datum.d == 'all'"}], "mark": {"type": "line", "strokeWidth": 2, "clip": true, "interpolate": "catmull-rom"}, "encoding": {
  "x": {"field": "t", "type": "quantitative", "scale": {"domain": [0, 0.3]}, "axis": {"values": [0, 0.1, 0.2, 0.3], "format": "~g"}, "title": null},
  "y": {"field": "z", "type": "quantitative", "scale": {"domain": [0, 3]}, "axis": {"values": [0, 1, 2, 3], "format": "~g"}, "title": null},
  "color": {"field": "s", "type": "nominal", "title": null, "scale": {"domain": ["Wake (topo)", "Upstream (topo)", "Wake (flat)", "Upstream (flat)"], "range": ["#0072BD", "#000000", "#22E022", "#000000"]}},
  "strokeDash": {"field": "s", "type": "nominal", "title": null, "scale": {"domain": ["Wake (topo)", "Upstream (topo)", "Wake (flat)", "Upstream (flat)"], "range": [[1, 0], [6, 4], [1, 0], [1.5, 1.5]]}},
  "order": {"field": "z", "type": "quantitative"}}}
]},
{"title": "Distance: 7.0D", "width": 280, "height": 136, "layer": [
 {"data": {"name": "hub"}, "mark": {"type": "rule", "color": "#3fd4ea", "strokeDash": [2, 2], "strokeWidth": 2}, "encoding": {"y": {"field": "z", "type": "quantitative", "scale": {"domain": [0, 3]}, "axis": {"values": [0, 1, 2, 3], "format": "~g"}, "title": null}}},
 {"data": {"name": "prof"}, "transform": [{"filter": "datum.d == '7.0D' || datum.d == 'all'"}], "mark": {"type": "line", "strokeWidth": 2, "clip": true, "interpolate": "catmull-rom"}, "encoding": {
  "x": {"field": "t", "type": "quantitative", "scale": {"domain": [0, 0.3]}, "axis": {"values": [0, 0.1, 0.2, 0.3], "format": "~g"}, "title": null},
  "y": {"field": "z", "type": "quantitative", "scale": {"domain": [0, 3]}, "axis": {"values": [0, 1, 2, 3], "format": "~g"}, "title": null},
  "color": {"field": "s", "type": "nominal", "title": null, "scale": {"domain": ["Wake (topo)", "Upstream (topo)", "Wake (flat)", "Upstream (flat)"], "range": ["#0072BD", "#000000", "#22E022", "#000000"]}},
  "strokeDash": {"field": "s", "type": "nominal", "title": null, "scale": {"domain": ["Wake (topo)", "Upstream (topo)", "Wake (flat)", "Upstream (flat)"], "range": [[1, 0], [6, 4], [1, 0], [1.5, 1.5]]}},
  "order": {"field": "z", "type": "quantitative"}}}
]},
{"title": "Distance: 8.0D", "width": 280, "height": 136, "layer": [
 {"data": {"name": "hub"}, "mark": {"type": "rule", "color": "#3fd4ea", "strokeDash": [2, 2], "strokeWidth": 2}, "encoding": {"y": {"field": "z", "type": "quantitative", "scale": {"domain": [0, 3]}, "axis": {"values": [0, 1, 2, 3], "format": "~g"}, "title": "(z - z_surf)/D"}}},
 {"data": {"name": "prof"}, "transform": [{"filter": "datum.d == '8.0D' || datum.d == 'all'"}], "mark": {"type": "line", "strokeWidth": 2, "clip": true, "interpolate": "catmull-rom"}, "encoding": {
  "x": {"field": "t", "type": "quantitative", "scale": {"domain": [0, 0.3]}, "axis": {"values": [0, 0.1, 0.2, 0.3], "format": "~g"}, "title": "TI"},
  "y": {"field": "z", "type": "quantitative", "scale": {"domain": [0, 3]}, "axis": {"values": [0, 1, 2, 3], "format": "~g"}, "title": "(z - z_surf)/D"},
  "color": {"field": "s", "type": "nominal", "title": null, "scale": {"domain": ["Wake (topo)", "Upstream (topo)", "Wake (flat)", "Upstream (flat)"], "range": ["#0072BD", "#000000", "#22E022", "#000000"]}},
  "strokeDash": {"field": "s", "type": "nominal", "title": null, "scale": {"domain": ["Wake (topo)", "Upstream (topo)", "Wake (flat)", "Upstream (flat)"], "range": [[1, 0], [6, 4], [1, 0], [1.5, 1.5]]}},
  "order": {"field": "z", "type": "quantitative"}}}
]},
{"title": "Distance: 9.0D", "width": 280, "height": 136, "layer": [
 {"data": {"name": "hub"}, "mark": {"type": "rule", "color": "#3fd4ea", "strokeDash": [2, 2], "strokeWidth": 2}, "encoding": {"y": {"field": "z", "type": "quantitative", "scale": {"domain": [0, 3]}, "axis": {"values": [0, 1, 2, 3], "format": "~g"}, "title": null}}},
 {"data": {"name": "prof"}, "transform": [{"filter": "datum.d == '9.0D' || datum.d == 'all'"}], "mark": {"type": "line", "strokeWidth": 2, "clip": true, "interpolate": "catmull-rom"}, "encoding": {
  "x": {"field": "t", "type": "quantitative", "scale": {"domain": [0, 0.3]}, "axis": {"values": [0, 0.1, 0.2, 0.3], "format": "~g"}, "title": "TI"},
  "y": {"field": "z", "type": "quantitative", "scale": {"domain": [0, 3]}, "axis": {"values": [0, 1, 2, 3], "format": "~g"}, "title": null},
  "color": {"field": "s", "type": "nominal", "title": null, "scale": {"domain": ["Wake (topo)", "Upstream (topo)", "Wake (flat)", "Upstream (flat)"], "range": ["#0072BD", "#000000", "#22E022", "#000000"]}},
  "strokeDash": {"field": "s", "type": "nominal", "title": null, "scale": {"domain": ["Wake (topo)", "Upstream (topo)", "Wake (flat)", "Upstream (flat)"], "range": [[1, 0], [6, 4], [1, 0], [1.5, 1.5]]}},
  "order": {"field": "z", "type": "quantitative"}}}
]},
{"title": "Distance: 10.0D", "width": 280, "height": 136, "layer": [
 {"data": {"name": "hub"}, "mark": {"type": "rule", "color": "#3fd4ea", "strokeDash": [2, 2], "strokeWidth": 2}, "encoding": {"y": {"field": "z", "type": "quantitative", "scale": {"domain": [0, 3]}, "axis": {"values": [0, 1, 2, 3], "format": "~g"}, "title": null}}},
 {"data": {"name": "prof"}, "transform": [{"filter": "datum.d == '10.0D' || datum.d == 'all'"}], "mark": {"type": "line", "strokeWidth": 2, "clip": true, "interpolate": "catmull-rom"}, "encoding": {
  "x": {"field": "t", "type": "quantitative", "scale": {"domain": [0, 0.3]}, "axis": {"values": [0, 0.1, 0.2, 0.3], "format": "~g"}, "title": "TI"},
  "y": {"field": "z", "type": "quantitative", "scale": {"domain": [0, 3]}, "axis": {"values": [0, 1, 2, 3], "format": "~g"}, "title": null},
  "color": {"field": "s", "type": "nominal", "title": null, "scale": {"domain": ["Wake (topo)", "Upstream (topo)", "Wake (flat)", "Upstream (flat)"], "range": ["#0072BD", "#000000", "#22E022", "#000000"]}},
  "strokeDash": {"field": "s", "type": "nominal", "title": null, "scale": {"domain": ["Wake (topo)", "Upstream (topo)", "Wake (flat)", "Upstream (flat)"], "range": [[1, 0], [6, 4], [1, 0], [1.5, 1.5]]}},
  "order": {"field": "z", "type": "quantitative"}}}
]}
],
"config": {
 "font": "Liberation Sans",
 "view": {"stroke": "#4d4d4d", "strokeWidth": 1},
 "axis": {"grid": true, "gridColor": "#e3e3e3", "domain": false, "ticks": false, "labelFontSize": 14, "labelColor": "#262626", "titleFontSize": 16, "titleFontWeight": "normal", "titleColor": "#262626", "labelFlush": false, "labelPadding": 6, "labelOverlap": false},
 "axisX": {"titlePadding": 6},
 "axisY": {"titlePadding": 12},
 "title": {"fontSize": 15, "fontWeight": "normal", "color": "#000000", "offset": 2},
 "legend": {"orient": "none", "legendX": 247, "legendY": -52, "direction": "horizontal", "columns": 4, "symbolType": "stroke", "symbolStrokeWidth": 2, "symbolSize": 484, "labelFontSize": 14, "labelColor": "#000000", "strokeColor": "#666666", "fillColor": "#ffffff", "padding": 2, "columnPadding": 5, "labelOffset": 1, "symbolOffset": 0}
}
}
